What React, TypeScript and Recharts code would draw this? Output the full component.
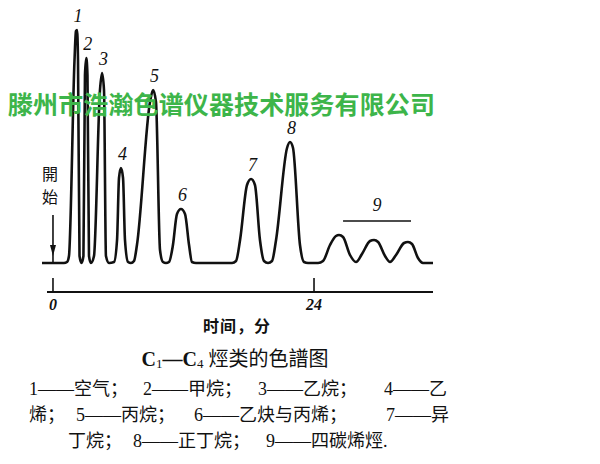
import React from 'react';
import { LineChart, Line, XAxis, YAxis, ReferenceLine, ReferenceDot } from 'recharts';

// Chromatogram trace: retention time (min) and detector signal (arbitrary units)
const traceTime = [
  -1.01, 1.01,
  1.29, 1.47, 1.98, 2.11, 2.21, 2.3, 2.44, 2.62,
  2.8, 2.94, 3.06, 3.17, 3.31, 3.49,
  3.77, 4.32, 4.51, 4.69, 4.87, 5.15,
  5.61, 5.89, 6.07, 6.25, 6.44, 6.62, 6.9, 7.17,
  7.45, 7.72, 8.92, 9.2, 9.47, 9.84, 10.11, 10.39,
  10.67, 11.03, 11.4, 11.77, 12.14, 12.51, 12.78, 13.15,
  16.46,
  16.83, 17.2, 17.84, 18.21, 18.57, 19.03, 19.4, 19.77,
  20.14, 20.51, 21.52, 21.79, 22.07, 22.71, 23.08, 23.45,
  24.37,
  24.83, 25.47, 26.02, 26.3, 26.67, 27.31, 27.86,
  28.41, 29.15, 29.52, 29.89, 30.53, 30.99,
  31.54, 32.28, 32.64, 33.01, 33.56, 34.02, 34.94,
];
const traceSignal = [
  0, 0,
  1, 7, 203, 232, 233, 203, 7, 0,
  7, 188, 205, 188, 7, 0,
  7, 173, 190, 173, 7, 0,
  1, 23, 85, 95, 85, 23, 1, 0,
  2, 18, 161, 173, 161, 13, 1, 0,
  1, 18, 49, 54, 49, 18, 1, 0,
  0,
  2, 23, 78, 84, 78, 23, 2, 0,
  2, 23, 115, 121, 115, 18, 1, 0,
  0,
  2, 18, 27, 28, 26, 8, 1,
  9, 22, 23, 21, 7, 1,
  8, 20, 21, 19, 5, 0, 0,
];

// Peak numbers and their apex positions
const peakNumbers = ['1', '2', '3', '4', '5', '6', '7', '8'];
const peakTimes = [2.16, 3.06, 4.51, 6.25, 9.2, 11.77, 18.21, 21.79];
const peakHeights = [233, 205, 190, 95, 173, 54, 84, 121];

// Peak group 9 (C4 olefins) bracket
const groupLabel = '9';
const groupStartTime = 26.67;
const groupEndTime = 32.92;
const groupLevel = 42;
const groupLabelTime = 29.79;
const groupLabelLevel = 58;

// Injection ("start") marker
const injectionTime = 0;
const injectionTop = 48;
const injectionArrowTip = 7;
const injectionText = ['開', '始'];

// Axis
const axisTicks = [0, 24];
const timeDomain = [-1.01, 34.94];
const signalDomain = [-29, 243];
const axisStartTime = -0.55;
const axisTitle = '时间，分';

// Captions
const watermark = '滕州市浩瀚色谱仪器技术服务有限公司';
const titleParts = ['C', '1', '—C', '4', ' 烴类的色譜图'];
const legendRow1 = ['1——空气；', '2——甲烷；', '3——乙烷；', '4——乙'];
const legendRow2 = ['烯；', '5——丙烷；', '6——乙炔与丙烯；', '7——异'];
const legendRow3 = ['丁烷；', '8——正丁烷；', '9——四碳烯烴.'];

const data = traceTime.map((t, i) => ({ t, s: traceSignal[i] }));

const INK = '#111';
const CAPTION_FONT = "'Liberation Serif', 'Noto Sans CJK SC'";

const AxisTick = (props: any) => {
  const { x, y, payload } = props;
  return (
    <g>
      <line x1={x} y1={y} x2={x} y2={y - 14} stroke={INK} strokeWidth={1.6} />
      <text
        x={x}
        y={y + 12}
        textAnchor="middle"
        dominantBaseline="central"
        fontFamily="Liberation Serif"
        fontStyle="italic"
        fontWeight="bold"
        fontSize={16}
        fill={INK}
      >
        {payload.value}
      </text>
    </g>
  );
};

const peakLabelShape = (label: string, dx: number, dyUp: number) => (props: any) => {
  const { cx, cy } = props;
  return (
    <text
      x={cx + dx}
      y={cy - dyUp}
      textAnchor="middle"
      dominantBaseline="central"
      fontFamily="Liberation Serif"
      fontStyle="italic"
      fontSize={18}
      fill={INK}
    >
      {label}
    </text>
  );
};

const arrowShape = (props: any) => {
  const { cx, cy } = props;
  return (
    <g>
      <path d={`M${cx - 3},${cy - 11} L${cx + 3},${cy - 11} L${cx},${cy} Z`} fill={INK} />
      {injectionText.map((ch, i) => (
        <text
          key={ch}
          x={cx - 3}
          y={cy - 83 + i * 23}
          textAnchor="middle"
          dominantBaseline="central"
          fontFamily="Noto Sans CJK TC"
          fontSize={16}
          fill={INK}
        >
          {ch}
        </text>
      ))}
    </g>
  );
};

const LegendRow = ({ items, xs, y }: { items: string[]; xs: number[]; y: number }) => (
  <text y={y} dominantBaseline="central" fontFamily={CAPTION_FONT} fontSize={18} fill={INK}>
    {items.map((it, i) => (
      <tspan key={i} x={xs[i]} y={y}>
        {it}
      </tspan>
    ))}
  </text>
);

export default function App() {
  return (
    <div style={{ position: 'absolute', left: 0, top: 0, width: 600, height: 464, background: '#fff' }}>
      <LineChart
        width={600}
        height={464}
        data={data}
        margin={{ top: 20, right: 167, left: 42, bottom: 142 }}
      >
        <XAxis
          dataKey="t"
          type="number"
          domain={timeDomain}
          ticks={axisTicks}
          axisLine={false}
          tickLine={false}
          tickSize={0}
          tickMargin={0}
          height={30}
          tick={<AxisTick />}
          interval={0}
        />
        <YAxis type="number" domain={signalDomain} hide allowDataOverflow />
        <ReferenceLine
          segment={[{ x: axisStartTime, y: signalDomain[0] }, { x: timeDomain[1], y: signalDomain[0] }]}
          stroke={INK}
          strokeWidth={2}
          ifOverflow="visible"
        />
        <ReferenceLine
          segment={[{ x: injectionTime, y: 0 }, { x: injectionTime, y: injectionTop }]}
          stroke={INK}
          strokeWidth={1.6}
          ifOverflow="visible"
        />
        <ReferenceDot x={injectionTime} y={injectionArrowTip} r={0} shape={arrowShape} ifOverflow="visible" />
        <Line
          type="monotone"
          dataKey="s"
          stroke={INK}
          strokeWidth={2.6}
          dot={false}
          activeDot={false}
          isAnimationActive={false}
        />
        {peakNumbers.map((n, i) => (
          <ReferenceDot
            key={n}
            x={peakTimes[i]}
            y={peakHeights[i]}
            r={0}
            ifOverflow="visible"
            shape={peakLabelShape(n, 1.5, 14)}
          />
        ))}
        <ReferenceLine
          segment={[{ x: groupStartTime, y: groupLevel }, { x: groupEndTime, y: groupLevel }]}
          stroke={INK}
          strokeWidth={1.6}
          ifOverflow="visible"
        />
        <ReferenceDot
          x={groupLabelTime}
          y={groupLabelLevel}
          r={0}
          ifOverflow="visible"
          shape={peakLabelShape(groupLabel, 0, 0)}
        />
      </LineChart>
      <svg
        width={600}
        height={464}
        style={{ position: 'absolute', left: 0, top: 0, pointerEvents: 'none' }}
      >
        <text
          x={237}
          y={325}
          textAnchor="middle"
          dominantBaseline="central"
          fontFamily="Noto Sans CJK SC"
          fontWeight="bold"
          fontSize={16}
          fill={INK}
          letterSpacing={1}
        >
          {axisTitle}
        </text>
        <text
          x={235}
          y={359}
          textAnchor="middle"
          dominantBaseline="central"
          fontFamily={CAPTION_FONT}
          fontSize={20}
          fill={INK}
        >
          <tspan fontWeight="bold">{titleParts[0]}</tspan>
          <tspan fontSize={13} dy={4}>{titleParts[1]}</tspan>
          <tspan fontWeight="bold" dy={-4}>{titleParts[2]}</tspan>
          <tspan fontSize={13} dy={4}>{titleParts[3]}</tspan>
          <tspan dy={-4}>{titleParts[4]}</tspan>
        </text>
        <LegendRow items={legendRow1} xs={[29, 143, 258, 384]} y={389} />
        <LegendRow items={legendRow2} xs={[29, 76, 194, 386]} y={415} />
        <LegendRow items={legendRow3} xs={[68, 133, 266]} y={441} />
        <text
          x={8}
          y={103}
          dominantBaseline="central"
          fontFamily="Noto Sans CJK SC"
          fontWeight="bold"
          fontSize={25}
          fill="#3DB54A"
          textLength={427}
          lengthAdjust="spacing"
        >
          {watermark}
        </text>
      </svg>
    </div>
  );
}
